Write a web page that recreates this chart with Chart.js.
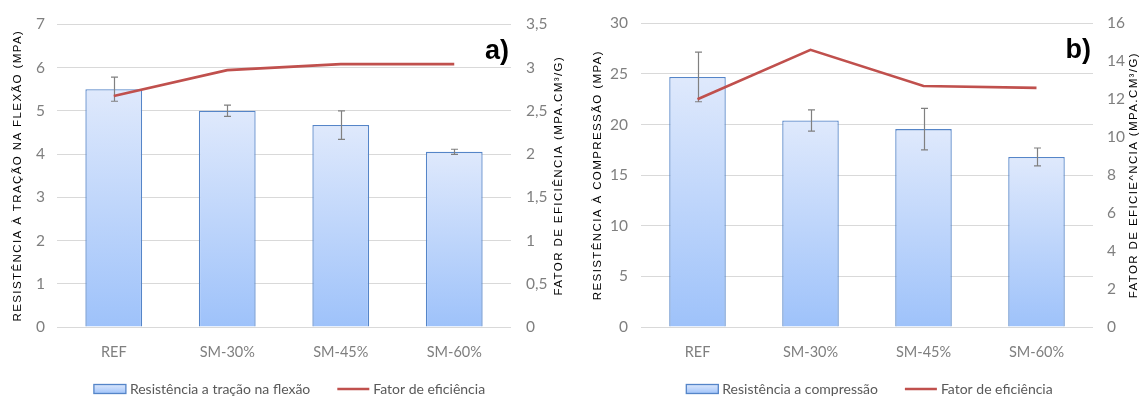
<!DOCTYPE html>
<html><head><meta charset="utf-8">
<script src="https://cdn.jsdelivr.net/npm/chart.js@4.4.1/dist/chart.umd.min.js"></script>
<style>
html,body{margin:0;padding:0;background:#fff;}
#wrap{display:flex;width:1146px;height:397px;}
.c{position:relative;width:573px;height:397px;}
</style></head><body>
<div id="wrap"><div class="c"><canvas id="ca"></canvas></div><div class="c"><canvas id="cb"></canvas></div></div>
<script>
// ---- data ----
const categories = ['REF', 'SM-30%', 'SM-45%', 'SM-60%'];
const flexMean = [5.5, 5.0, 4.67, 4.05];
const flexErr = [0.28, 0.13, 0.33, 0.06];
const flexFactor = [2.67, 2.97, 3.04, 3.04];
const compMean = [24.7, 20.4, 19.55, 16.8];
const compErr = [2.45, 1.05, 2.05, 0.88];
const compFactor = [12.0, 14.6, 12.7, 12.6];
const seriesBarA = 'Resistência a tração na flexão';
const seriesBarB = 'Resistência a compressão';
const seriesLine = 'Fator de eficiência';
const titleLeftA = 'RESISTÊNCIA À TRAÇÃO NA FLEXÃO (MPA)';
const titleRightA = 'FATOR DE EFICIÊNCIA (MPA.CM³/G)';
const titleLeftB = 'RESISTÊNCIA À COMPRESSÃO (MPA)';
const titleRightB = 'FATOR DE EFICIE^NCIA (MPA.CM³/G)';

const LFONT = 'Lato, "Noto Sans", sans-serif';
const SANS = '"Liberation Sans", Arial, sans-serif';
const GRID = '#d9d9d9';
const TICK = '#7f7f7f';
const BAR_TOP = '#dfe9fc';
const BAR_BOT = '#9ec2fa';
const BAR_BORDER = '#5585c8';
const LINE = '#c0504d';

const errorBars = {
  id: 'errorBars',
  afterDatasetDraw(chart, args, opts) {
    if (args.index !== 0) return;
    const means = chart.data.datasets[0].data;
    const errs = opts.errors;
    const y = chart.scales.y;
    const ctx = chart.ctx;
    ctx.save();
    ctx.strokeStyle = '#808080';
    ctx.lineWidth = 1.2;
    args.meta.data.forEach((bar, i) => {
      const x = Math.round(bar.x) + 0.5;
      const t = y.getPixelForValue(means[i] + errs[i]);
      const b = y.getPixelForValue(means[i] - errs[i]);
      ctx.beginPath();
      ctx.moveTo(x, t); ctx.lineTo(x, b);
      ctx.moveTo(x - 3.5, t); ctx.lineTo(x + 3.5, t);
      ctx.moveTo(x - 3.5, b); ctx.lineTo(x + 3.5, b);
      ctx.stroke();
    });
    ctx.restore();
  }
};

// panel label, rotated axis titles (letter-spaced) and legend
const decorations = {
  id: 'decorations',
  afterDraw(chart, args, opts) {
    const ctx = chart.ctx, ca = chart.chartArea;
    ctx.save();
    // panel label
    ctx.fillStyle = '#000';
    ctx.font = 'bold 27px ' + SANS;
    ctx.textAlign = 'right';
    ctx.textBaseline = 'alphabetic';
    ctx.fillText(opts.panel, ca.right - 2, ca.top + 35);
    // axis titles
    const midY = (ca.top + ca.bottom) / 2;
    ctx.font = '11.5px ' + SANS;
    ctx.textAlign = 'center';
    ctx.textBaseline = 'middle';
    if ('letterSpacing' in ctx) ctx.letterSpacing = opts.spacing + 'px';
    [[opts.leftTitle, opts.leftX], [opts.rightTitle, opts.rightX]].forEach(([t, x]) => {
      ctx.save();
      ctx.translate(x, midY);
      ctx.rotate(-Math.PI / 2);
      ctx.fillText(t, 0, 0);
      ctx.restore();
    });
    if ('letterSpacing' in ctx) ctx.letterSpacing = '0px';
    // legend
    const ds = chart.data.datasets;
    ctx.font = '14px ' + LFONT;
    ctx.textAlign = 'left';
    const boxW = 32, gap = 4, itemGap = 27, ly = opts.legendY;
    const w0 = boxW + gap + ctx.measureText(ds[0].label).width;
    const w1 = boxW + gap + ctx.measureText(ds[1].label).width;
    const total = w0 + itemGap + w1;
    let x = (chart.width - total) / 2 + opts.legendShift;
    const g = ctx.createLinearGradient(0, ly - 5, 0, ly + 5);
    g.addColorStop(0, BAR_TOP); g.addColorStop(1, BAR_BOT);
    ctx.fillStyle = g;
    ctx.fillRect(x, ly - 4.5, boxW, 9);
    ctx.strokeStyle = BAR_BORDER; ctx.lineWidth = 1.3;
    ctx.strokeRect(x, ly - 4.5, boxW, 9);
    ctx.fillStyle = '#595959';
    ctx.fillText(ds[0].label, x + boxW + gap, ly + 0.5);
    x += w0 + itemGap;
    ctx.strokeStyle = LINE; ctx.lineWidth = 2.6;
    ctx.beginPath(); ctx.moveTo(x, ly); ctx.lineTo(x + boxW, ly); ctx.stroke();
    ctx.fillStyle = '#595959';
    ctx.fillText(ds[1].label, x + boxW + gap, ly + 0.5);
    ctx.restore();
  }
};

function barGradient(c) {
  const ch = c.chart, ca = ch.chartArea;
  if (!ca || c.type !== 'data') return '#c8dbfb';
  const yTop = ch.scales.y.getPixelForValue(c.raw);
  const g = ch.ctx.createLinearGradient(0, yTop, 0, ca.bottom);
  g.addColorStop(0, BAR_TOP);
  g.addColorStop(1, BAR_BOT);
  return g;
}

function makeChart(id, cfg) {
  const ctx = document.getElementById(id);
  return new Chart(ctx, {
    data: {
      labels: categories,
      datasets: [
        { type: 'bar', label: cfg.barLabel, data: cfg.means, yAxisID: 'y', order: 1,
          backgroundColor: barGradient, borderColor: BAR_BORDER, borderWidth: 1.3,
          categoryPercentage: 1.0, barPercentage: 0.5 },
        { type: 'line', label: seriesLine, data: cfg.factor, yAxisID: 'y1', order: 0,
          borderColor: LINE, backgroundColor: LINE, borderWidth: 2.6, pointRadius: 0, tension: 0 }
      ]
    },
    options: {
      responsive: true, maintainAspectRatio: false, animation: false,
      layout: { padding: { top: cfg.top, bottom: 0, left: 0, right: 0 } },
      plugins: {
        tooltip: { enabled: false },
        legend: { display: false },
        errorBars: { errors: cfg.errs },
        decorations: { panel: cfg.panel, leftTitle: cfg.leftTitle, rightTitle: cfg.rightTitle,
                       leftX: cfg.leftX, rightX: cfg.rightX, spacing: 1.4,
                       legendY: 389, legendShift: cfg.legendShift }
      },
      scales: {
        x: {
          grid: { display: false }, border: { display: false },
          ticks: { color: TICK, font: { family: LFONT, size: 14.5 }, padding: 9 },
          afterFit: s => { s.height = 397 - 327; }
        },
        y: {
          position: 'left', min: 0, max: cfg.ymax,
          grid: { color: GRID, drawTicks: false, lineWidth: 1 }, border: { display: false },
          ticks: { stepSize: cfg.ystep, color: TICK, font: { family: LFONT, size: 15.5 }, padding: cfg.lpad },
          afterFit: s => { s.width = cfg.lw; }
        },
        y1: {
          position: 'right', min: 0, max: cfg.y1max,
          grid: { drawOnChartArea: false, drawTicks: false }, border: { display: false },
          ticks: { stepSize: cfg.y1step, color: TICK, font: { family: LFONT, size: 15.5 }, padding: cfg.rpad,
                   callback: v => String(v).replace('.', ',') },
          afterFit: s => { s.width = cfg.rw; }
        }
      }
    },
    plugins: [errorBars, decorations]
  });
}

makeChart('ca', {
  barLabel: seriesBarA, means: flexMean, errs: flexErr, factor: flexFactor,
  ymax: 7, ystep: 1, y1max: 3.5, y1step: 0.5, leftTitle: titleLeftA, rightTitle: titleRightA,
  lw: 57, rw: 62, lpad: 12, rpad: 15, top: 17, panel: 'a)', leftX: 18, rightX: 559, legendShift: 3
});
makeChart('cb', {
  barLabel: seriesBarB, means: compMean, errs: compErr, factor: compFactor,
  ymax: 30, ystep: 5, y1max: 16, y1step: 2, leftTitle: titleLeftB, rightTitle: titleRightB,
  lw: 68, rw: 53, lpad: 13, rpad: 14, top: 19, panel: 'b)', leftX: 25, rightX: 561, legendShift: 10
});
</script>
</body></html>
